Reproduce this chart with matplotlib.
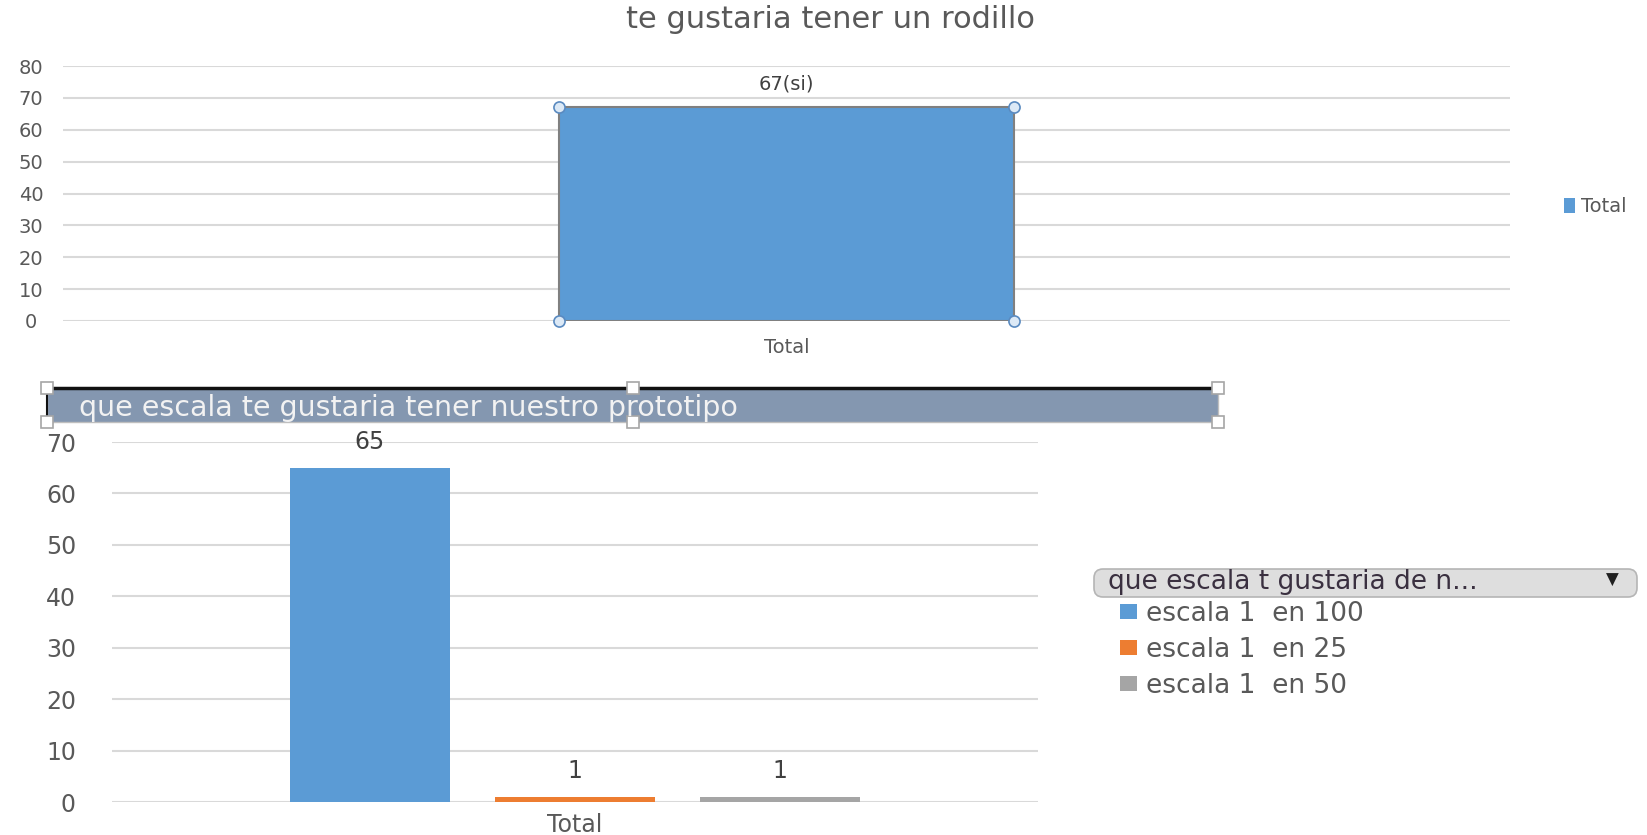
import matplotlib
matplotlib.use("Agg")
import matplotlib.pyplot as plt
from matplotlib.patches import Rectangle, FancyBboxPatch, Patch

# ---------------- data ----------------
top_title = "te gustaria tener un rodillo"
top_categories = ["Total"]
top_values = [67]
top_value_labels = ["67(si)"]
top_series = "Total"
top_yticks = [0, 10, 20, 30, 40, 50, 60, 70, 80]

bottom_title = "que escala te gustaria tener nuestro prototipo"
bottom_category = "Total"
bottom_series = ["escala 1  en 100", "escala 1  en 25", "escala 1  en 50"]
bottom_values = [65, 1, 1]
bottom_yticks = [0, 10, 20, 30, 40, 50, 60, 70]
legend_header = "que escala t gustaria de n..."

BLUE = "#5b9bd5"
ORANGE = "#ed7d31"
GRAY = "#a5a5a5"
bottom_colors = [BLUE, ORANGE, GRAY]
TXT = "#595959"
GRID = "#d9d9d9"

W, H = 1647, 835
fig = plt.figure(figsize=(W / 100, H / 100), dpi=100)
fig.patch.set_facecolor("white")


def fx(px):
    return px / W


def fy(py):
    return 1 - py / H


# ---------------- top chart ----------------
ax1 = fig.add_axes([fx(63), fy(321), fx(1510) - fx(63), fy(66) - fy(321)])
ax1.set_xlim(-0.5, 0.5)
ax1.set_ylim(0, 80)
ax1.set_yticks(top_yticks)
ax1.grid(axis="y", color=GRID, linewidth=1.5)
ax1.set_axisbelow(True)
for s in ax1.spines.values():
    s.set_visible(False)
bars1 = ax1.bar(range(len(top_categories)), top_values, width=0.314, color=BLUE,
                edgecolor="#808080", linewidth=1.5, label=top_series, zorder=3)
ax1.set_xticks(range(len(top_categories)))
ax1.set_xticklabels(top_categories)
ax1.tick_params(axis="both", length=0, labelcolor=TXT, labelsize=14)
ax1.tick_params(axis="y", pad=23)
ax1.tick_params(axis="x", pad=12)
for lab in ax1.get_yticklabels():
    lab.set_horizontalalignment("center")
ax1.bar_label(bars1, labels=top_value_labels, padding=10, color="#404040", fontsize=14)
# selection handles at bar corners
for r in bars1:
    x0, x1 = r.get_x(), r.get_x() + r.get_width()
    y0, y1 = r.get_y(), r.get_y() + r.get_height()
    ax1.plot([x0, x1, x0, x1], [y0, y0, y1, y1], linestyle="none", marker="o",
             markersize=8, markerfacecolor="#dce9f6", markeredgecolor="#5a8ac0",
             markeredgewidth=1.2, zorder=5, clip_on=False)
ax1.legend(handles=[Patch(facecolor=BLUE, edgecolor="none", label=top_series)],
           loc="center left", bbox_to_anchor=(fx(1546), fy(207)),
           bbox_transform=fig.transFigure, frameon=False, fontsize=14,
           handlelength=0.6, handleheight=0.8, handletextpad=0.3, labelcolor=TXT)

fig.text(fx(830), fy(20), top_title, ha="center", va="center", fontsize=22, color=TXT)

# ---------------- bottom chart ----------------
ax2 = fig.add_axes([fx(112), fy(802), fx(1038) - fx(112), fy(442) - fy(802)])
ax2.set_xlim(-0.5, 0.5)
ax2.set_ylim(0, 70)
ax2.set_yticks(bottom_yticks)
ax2.grid(axis="y", color=GRID, linewidth=1.5)
ax2.set_axisbelow(True)
for s in ax2.spines.values():
    s.set_visible(False)
step = 0.2214
bw = 0.1728
n = len(bottom_series)
for i, (name, val, col) in enumerate(zip(bottom_series, bottom_values, bottom_colors)):
    b = ax2.bar((i - (n - 1) / 2) * step, val, width=bw, color=col, label=name, zorder=3)
    ax2.bar_label(b, padding=10, color="#404040", fontsize=17)
ax2.set_xticks([0])
ax2.set_xticklabels([bottom_category])
ax2.tick_params(axis="both", length=0, labelcolor=TXT, labelsize=17)
ax2.tick_params(axis="y", pad=26)
ax2.tick_params(axis="x", pad=8)
ax2.legend(loc="upper left", bbox_to_anchor=(fx(1096), fy(577)),
           bbox_transform=fig.transFigure, frameon=False, fontsize=19,
           handlelength=0.65, handleheight=0.5, handletextpad=0.35,
           labelspacing=0.38, labelcolor=TXT)

# ---------------- overlay decorations ----------------
ov = fig.add_axes([0, 0, 1, 1], zorder=10)
ov.set_xlim(0, W)
ov.set_ylim(H, 0)
ov.axis("off")
ov.patch.set_alpha(0)

# title band of bottom chart
ov.add_patch(Rectangle((47, 388), 1171, 34, facecolor="#8497b0", edgecolor="#bfbfbf", linewidth=1))
ov.plot([47, 1218], [388, 388], color="#111111", linewidth=2.5)
ov.plot([47, 47], [388, 422], color="#111111", linewidth=1.5)
ov.text(79, 408, bottom_title, ha="left", va="center", fontsize=20.5, color="#f2f2f2")
for hx in (47, 633, 1218):
    for hy in (388, 422):
        ov.plot(hx, hy, marker="s", markersize=8, markerfacecolor="white",
                markeredgecolor="#a6a6a6", markeredgewidth=1.2, linestyle="none")

# legend header (field button)
ov.add_patch(FancyBboxPatch((1094, 569), 543, 28, boxstyle="round,pad=0,rounding_size=9",
                            facecolor="#dedede", edgecolor="#b5b5b5", linewidth=1.2))
ov.text(1108, 582, legend_header, ha="left", va="center", fontsize=19, color="#3a3040")
ov.text(1612, 580, "\u25BC", ha="center", va="center", fontsize=12, color="#202020")

fig.savefig("out.png", dpi=100, facecolor="white")
